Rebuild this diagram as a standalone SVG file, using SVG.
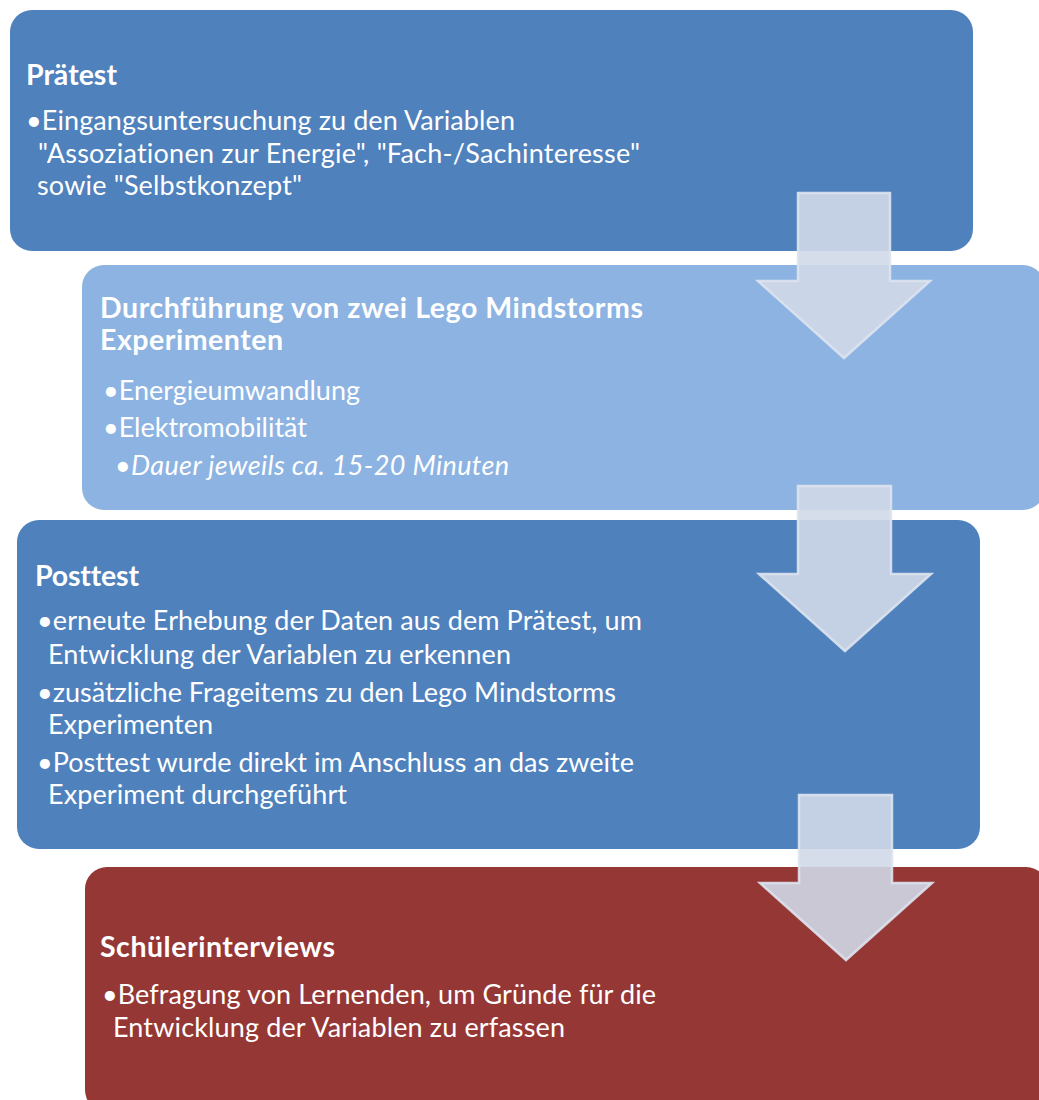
<svg xmlns="http://www.w3.org/2000/svg" width="1039" height="1100" viewBox="0 0 1039 1100">
<style>
.t{font-family:Lato,"Open Sans","Liberation Sans",sans-serif;fill:#fff;font-variant-ligatures:none;}
.b{font-size:27px;}
.h{font-size:28.5px;font-weight:bold;}
.i{font-style:italic;}
.arrow{fill:#D0D8E8;fill-opacity:0.9;stroke:#DDE3EE;stroke-opacity:0.9;stroke-width:2.5;stroke-linejoin:miter;}
</style>
<rect width="1039" height="1100" fill="#fff"/>
<g id="node-praetest">
<rect x="10" y="10" width="963" height="241" rx="22" fill="#4F81BD"/>
<text class="t h" x="26" y="85" textLength="91">Prätest</text>
<text class="t b" x="26" y="130" textLength="489">•Eingangsuntersuchung zu den Variablen</text>
<text class="t b" x="38" y="163" textLength="602">"Assoziationen zur Energie", "Fach-/Sachinteresse"</text>
<text class="t b" x="37" y="195" textLength="265">sowie "Selbstkonzept"</text>
</g>
<g id="node-durchfuehrung">
<rect x="82" y="265" width="963" height="245" rx="22" fill="#8DB3E2"/>
<text class="t h" x="100" y="318" textLength="543">Durchführung von zwei Lego Mindstorms</text>
<text class="t h" x="100" y="350" textLength="183">Experimenten</text>
<text class="t b" x="103" y="400" textLength="257">•Energieumwandlung</text>
<text class="t b" x="103" y="437" textLength="204">•Elektromobilität</text>
<text class="t b i" x="115" y="475" textLength="394">•Dauer jeweils ca. 15-20 Minuten</text>
</g>
<g id="node-posttest">
<rect x="17" y="520" width="963" height="329" rx="22" fill="#4F81BD"/>
<text class="t h" x="35" y="586" textLength="104">Posttest</text>
<text class="t b" x="37" y="630" textLength="605">•erneute Erhebung der Daten aus dem Prätest, um</text>
<text class="t b" x="48" y="664" textLength="463">Entwicklung der Variablen zu erkennen</text>
<text class="t b" x="37" y="702" textLength="579">•zusätzliche Frageitems zu den Lego Mindstorms</text>
<text class="t b" x="48" y="734" textLength="165">Experimenten</text>
<text class="t b" x="37" y="772" textLength="597">•Posttest wurde direkt im Anschluss an das zweite</text>
<text class="t b" x="48" y="804" textLength="299">Experiment durchgeführt</text>
</g>
<g id="node-interviews">
<rect x="85" y="867" width="963" height="245" rx="22" fill="#953735"/>
<text class="t h" x="100" y="957" textLength="235">Schülerinterviews</text>
<text class="t b" x="102" y="1004" textLength="554">•Befragung von Lernenden, um Gründe für die</text>
<text class="t b" x="113" y="1037" textLength="452">Entwicklung der Variablen zu erfassen</text>
</g>
<g id="connectors">
<path class="arrow" d="M798,193 H890 V281 H930 L844,358 L758,281 H798 Z"/>
<path class="arrow" d="M798,486 H891 V574 H931 L845,651 L759,574 H798 Z"/>
<path class="arrow" d="M799,795 H892 V883 H932 L846,960 L760,883 H799 Z"/>
</g>
</svg>
